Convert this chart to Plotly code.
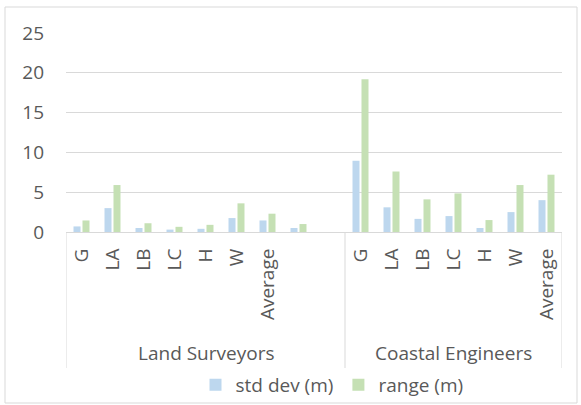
import plotly.graph_objects as go

groups = ["Land Surveyors", "Coastal Engineers"]
cats_ls = ["G", "LA", "LB", "LC", "H", "W", "Average", "", ""]
cats_ce = ["G", "LA", "LB", "LC", "H", "W", "Average"]
std_ls = [0.7, 3.0, 0.5, 0.3, 0.4, 1.75, 1.45, 0.5, None]
rng_ls = [1.45, 5.9, 1.1, 0.65, 0.9, 3.6, 2.3, 1.0, None]
std_ce = [8.95, 3.1, 1.65, 2.0, 0.5, 2.5, 4.0]
rng_ce = [19.2, 7.6, 4.1, 4.85, 1.5, 5.9, 7.2]
y_ticks = [0, 5, 10, 15, 20, 25]

cats = cats_ls + cats_ce
std = std_ls + std_ce
rng = rng_ls + rng_ce
xs = list(range(len(cats)))

FONT = "Open Sans"
FS = 19
GREY = "#595959"
LINE = "#D9D9D9"

fig = go.Figure()
fig.add_trace(go.Bar(x=xs, y=std, name="std dev (m)", marker=dict(color="#BDD7EE", line=dict(width=0))))
fig.add_trace(go.Bar(x=xs, y=rng, name="range (m)", marker=dict(color="#C5E0B4", line=dict(width=0))))

W, H = 581, 405
L, R, T, B = 66, 19, 33, 173
pw, ph = W - L - R, H - T - B

def px_x(p):
    return (p - L) / pw

def px_y(p):
    return (H - B - p) / ph

n_ls = len(cats_ls)
n = len(cats)
bounds = [-0.5, n_ls - 0.5, n - 0.5]
shapes = []
for b in bounds:
    shapes.append(dict(type="line", xref="x", yref="paper", x0=b, x1=b, y0=0, y1=px_y(368),
                       line=dict(color=LINE, width=1)))
# outer chart border
shapes.append(dict(type="rect", xref="paper", yref="paper", x0=px_x(5), x1=px_x(577),
                   y0=px_y(403), y1=px_y(7), line=dict(color=LINE, width=1)))

annotations = []
centers = [(bounds[0] + bounds[1]) / 2, (bounds[1] + bounds[2]) / 2]
for g, c in zip(groups, centers):
    annotations.append(dict(x=c, y=px_y(353), xref="x", yref="paper", text=g, showarrow=False,
                            font=dict(family=FONT, size=FS, color=GREY), xanchor="center", yanchor="middle"))

fig.update_layout(
    width=W, height=H,
    margin=dict(l=L, r=R, t=T, b=B, autoexpand=False),
    paper_bgcolor="white", plot_bgcolor="white",
    barmode="group", bargap=0.42, bargroupgap=0.22,
    font=dict(family=FONT, size=FS, color=GREY),
    shapes=shapes, annotations=annotations,
    legend=dict(orientation="h", x=px_x(332), xanchor="center", y=px_y(385), yanchor="middle",
                bgcolor="rgba(0,0,0,0)",
                font=dict(family=FONT, size=FS, color=GREY), itemwidth=30, traceorder="normal"),
    xaxis=dict(range=[-0.5, n - 0.5], tickmode="array", tickvals=xs, ticktext=cats, tickangle=-90,
               showgrid=False, zeroline=False, showline=True, linecolor=LINE, ticks="",
               ticklabelstandoff=8,
               tickfont=dict(family=FONT, size=FS, color=GREY), automargin=False),
    yaxis=dict(range=[0, 25], tickvals=y_ticks, showgrid=True, gridcolor=LINE, gridwidth=1,
               zeroline=False, showline=False, ticks="", ticklabelstandoff=21,
               tickfont=dict(family=FONT, size=FS, color=GREY), automargin=False),
)
fig.write_html("out.html", post_script="document.body.style.margin='0';",
               config={"displayModeBar": False})
